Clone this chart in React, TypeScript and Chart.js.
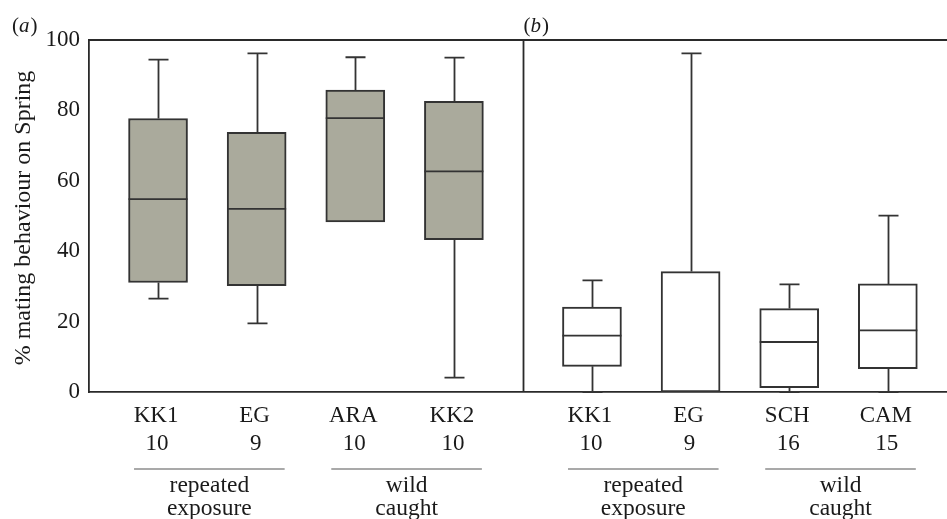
import React, { useEffect, useRef } from "react";
import { Chart, registerables } from "chart.js";

Chart.register(...registerables);

// ---- data ----
const groupsA = ["KK1", "EG", "ARA", "KK2"];
const sizesA = ["10", "9", "10", "10"];
const groupsB = ["KK1", "EG", "SCH", "CAM"];
const sizesB = ["10", "9", "16", "15"];
const posA = [0, 1, 2, 3];
const posB = [4.4, 5.4, 6.4, 7.4];
const panelDivider = 3.7;

const minA = [26.5, 19.5, 48.3, 4.1];
const q1A = [31.1, 30.2, 48.3, 43.3];
const medA = [54.8, 52.0, 77.8, 62.7];
const q3A = [77.7, 73.8, 85.8, 82.6];
const maxA = [94.4, 96.2, 95.1, 95.0];

const minB = [0, 0, 0, 0];
const q1B = [7.3, 0, 1.2, 6.6];
const medB = [16.0, 0, 14.2, 17.5];
const q3B = [24.1, 34.2, 23.7, 30.7];
const maxB = [31.7, 96.2, 30.6, 50.1];

const yTicks = [0, 20, 40, 60, 80, 100];
const treatmentGroups = [
  { idx: [0, 1], text: ["repeated", "exposure"] },
  { idx: [2, 3], text: ["wild", "caught"] },
];
const panelLabels = ["a", "b"];
const yTitle = "% mating behaviour on Spring";

const SERIF = '"Liberation Serif", "Times New Roman", serif';
const INK = "#2a2a2a";

const extrasPlugin = {
  id: "boxExtras",
  afterDatasetsDraw(chart: any) {
    const { ctx, chartArea } = chart;
    const x = chart.scales.x;
    const y = chart.scales.y;
    ctx.save();

    // frame: top line and panel divider
    ctx.strokeStyle = INK;
    ctx.lineWidth = 1.8;
    ctx.beginPath();
    ctx.moveTo(chartArea.left, chartArea.top);
    ctx.lineTo(chartArea.right, chartArea.top);
    const dx = Math.round(x.getPixelForValue(panelDivider)) + 0.5;
    ctx.moveTo(dx, chartArea.top);
    ctx.lineTo(dx, chartArea.bottom);
    ctx.stroke();

    const panels = [
      { ds: 0, mins: minA, q1: q1A, med: medA, q3: q3A, max: maxA },
      { ds: 1, mins: minB, q1: q1B, med: medB, q3: q3B, max: maxB },
    ];
    ctx.strokeStyle = "#333";
    ctx.lineWidth = 1.8;
    const cap = 10;
    panels.forEach((p) => {
      const meta = chart.getDatasetMeta(p.ds);
      meta.data.forEach((bar: any, i: number) => {
        const px = Math.round(bar.x) + 0.5;
        const half = bar.width / 2;
        ctx.beginPath();
        if (p.max[i] > p.q3[i]) {
          const yt = y.getPixelForValue(p.max[i]);
          ctx.moveTo(px, y.getPixelForValue(p.q3[i]));
          ctx.lineTo(px, yt);
          ctx.moveTo(px - cap, yt);
          ctx.lineTo(px + cap, yt);
        }
        if (p.mins[i] < p.q1[i]) {
          const yb = y.getPixelForValue(p.mins[i]);
          ctx.moveTo(px, y.getPixelForValue(p.q1[i]));
          ctx.lineTo(px, yb);
          ctx.moveTo(px - cap, yb);
          ctx.lineTo(px + cap, yb);
        }
        if (p.med[i] > p.q1[i]) {
          const ym = y.getPixelForValue(p.med[i]);
          ctx.moveTo(bar.x - half, ym);
          ctx.lineTo(bar.x + half, ym);
        }
        ctx.stroke();
      });
    });

    // category labels below the axis
    ctx.fillStyle = "#1a1a1a";
    ctx.textAlign = "center";
    ctx.textBaseline = "alphabetic";
    const base = chartArea.bottom;
    const rows = [
      { pos: posA, names: groupsA, sizes: sizesA },
      { pos: posB, names: groupsB, sizes: sizesB },
    ];
    rows.forEach((r) => {
      ctx.font = `23px ${SERIF}`;
      r.pos.forEach((v, i) => {
        const px = x.getPixelForValue(v);
        ctx.fillText(r.names[i], px - 2, base + 30);
        ctx.fillText(r.sizes[i], px - 1, base + 58);
      });
      treatmentGroups.forEach((g) => {
        const x0 = x.getPixelForValue(r.pos[g.idx[0]]) - 24;
        const x1 = x.getPixelForValue(r.pos[g.idx[1]]) + 28;
        ctx.strokeStyle = "#555";
        ctx.lineWidth = 1.2;
        ctx.beginPath();
        ctx.moveTo(x0, base + 77);
        ctx.lineTo(x1, base + 77);
        ctx.stroke();
        ctx.font = `23.5px ${SERIF}`;
        const cx = (x0 + x1) / 2;
        ctx.fillText(g.text[0], cx, base + 100);
        ctx.fillText(g.text[1], cx, base + 123);
      });
    });

    // y-axis title
    ctx.save();
    ctx.translate(24, (chartArea.top + chartArea.bottom) / 2 + 2);
    ctx.rotate(-Math.PI / 2);
    ctx.font = `24px ${SERIF}`;
    ctx.textBaseline = "middle";
    ctx.fillText(yTitle, 0, 0);
    ctx.restore();

    // panel labels (a), (b)
    const drawPanelLabel = (letter: string, left: number) => {
      ctx.textAlign = "left";
      ctx.textBaseline = "alphabetic";
      let cx = left;
      const yb = 32;
      ctx.font = `21px ${SERIF}`;
      ctx.fillText("(", cx, yb);
      cx += ctx.measureText("(").width;
      ctx.font = `italic 21px ${SERIF}`;
      ctx.fillText(letter, cx, yb);
      cx += ctx.measureText(letter).width + 1;
      ctx.font = `21px ${SERIF}`;
      ctx.fillText(")", cx, yb);
    };
    drawPanelLabel(panelLabels[0], 12);
    drawPanelLabel(panelLabels[1], dx);

    ctx.restore();
  },
};

export default function App() {
  const ref = useRef<HTMLCanvasElement>(null);
  useEffect(() => {
    if (!ref.current) return;
    const chart = new Chart(ref.current, {
      type: "bar",
      data: {
        datasets: [
          {
            data: posA.map((v, i) => ({ x: v, y: [q1A[i], q3A[i]] })) as any,
            backgroundColor: "#aaaa9c",
            borderColor: "#333",
            borderWidth: 2,
            borderSkipped: false,
            barThickness: 59,
            grouped: false,
          } as any,
          {
            data: posB.map((v, i) => ({ x: v, y: [q1B[i], q3B[i]] })) as any,
            backgroundColor: "#ffffff",
            borderColor: "#333",
            borderWidth: 2,
            borderSkipped: false,
            barThickness: 59,
            grouped: false,
          } as any,
        ],
      },
      options: {
        animation: false,
        responsive: true,
        maintainAspectRatio: false,
        layout: { padding: { top: 40, left: 0, right: 0, bottom: 0 } },
        plugins: { legend: { display: false }, tooltip: { enabled: false } },
        scales: {
          x: {
            type: "linear",
            min: -0.7,
            max: 8.0,
            offset: false,
            grid: { display: false, drawTicks: false, offset: false },
            border: { display: true, color: INK, width: 1.8 },
            ticks: { display: false },
            afterFit: (s: any) => {
              s.height = 127;
            },
          },
          y: {
            min: 0,
            max: 100,
            afterBuildTicks: (s: any) => {
              s.ticks = yTicks.map((v) => ({ value: v }));
            },
            grid: { display: false, drawTicks: false },
            border: { display: true, color: INK, width: 1.8 },
            ticks: {
              padding: 9,
              color: "#1a1a1a",
              font: { family: SERIF, size: 23 },
            },
            afterFit: (s: any) => {
              s.width = 89;
            },
          },
        },
      },
      plugins: [extrasPlugin],
    });
    return () => chart.destroy();
  }, []);
  return (
    <div style={{ position: "fixed", left: 0, top: 0, width: 947, height: 519, background: "#fff" }}>
      <canvas ref={ref} />
    </div>
  );
}
